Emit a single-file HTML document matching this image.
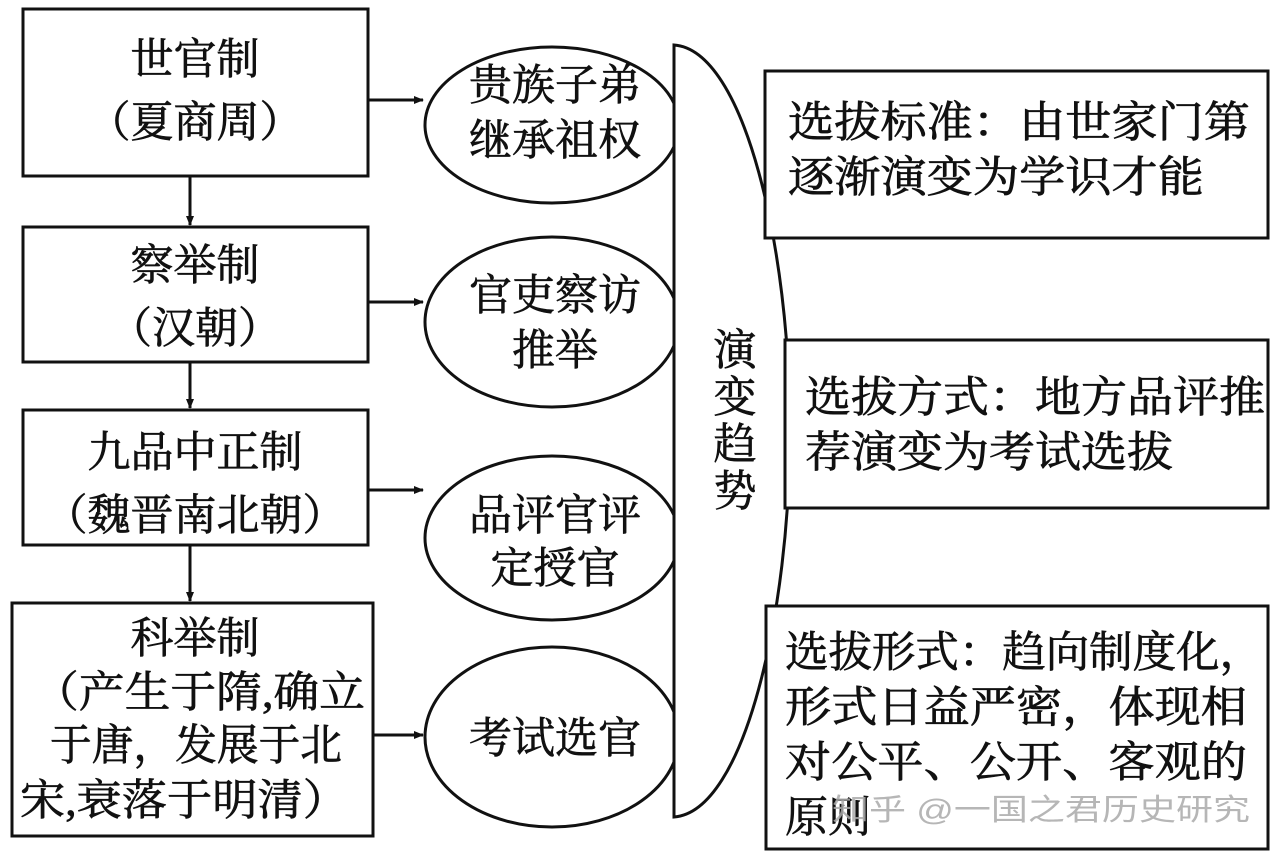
<!DOCTYPE html>
<html><head><meta charset="utf-8"><style>
html,body{margin:0;padding:0;background:#fff;}
svg{display:block;}
text{font-family:"Liberation Serif","Noto Serif CJK SC",serif;font-size:43px;fill:#111;stroke:#111;stroke-width:0.7;}
</style></head><body>
<svg width="1280" height="860" viewBox="0 0 1280 860">
<defs><marker id="a" markerWidth="10" markerHeight="10" refX="9" refY="5" orient="auto" markerUnits="userSpaceOnUse"><path d="M0,1 L10,5 L0,9 Z" fill="#111"/></marker></defs>
<g fill="none" stroke="#111" stroke-width="3">
<rect x="23" y="9" width="345" height="167"/>
<rect x="23" y="227" width="345" height="135"/>
<rect x="23" y="410" width="345" height="135"/>
<rect x="12" y="603" width="361" height="233"/>
<line x1="190" y1="176" x2="190" y2="225" marker-end="url(#a)"/>
<line x1="190" y1="362" x2="190" y2="408" marker-end="url(#a)"/>
<line x1="190" y1="545" x2="190" y2="601" marker-end="url(#a)"/>
<line x1="368" y1="100" x2="423" y2="100" marker-end="url(#a)"/>
<line x1="368" y1="302" x2="423" y2="302" marker-end="url(#a)"/>
<line x1="368" y1="490" x2="423" y2="490" marker-end="url(#a)"/>
<line x1="373" y1="735" x2="423" y2="735" marker-end="url(#a)"/>
<ellipse cx="552" cy="125" rx="127" ry="78"/>
<ellipse cx="552" cy="322" rx="127" ry="85"/>
<ellipse cx="552" cy="538" rx="127" ry="82"/>
<ellipse cx="552" cy="737" rx="127" ry="90"/>
</g>
<path d="M674,45 C745,50 790,250 790,430 C790,610 745,812 674,817 Z" fill="#fff" stroke="#111" stroke-width="3"/>
<g fill="#fff" stroke="#111" stroke-width="3">
<rect x="765" y="71" width="503" height="167"/>
<rect x="785" y="340" width="483" height="168"/>
<rect x="766" y="606" width="502" height="243"/>
</g>
<g text-anchor="middle">
<text x="195" y="74">世官制</text>
<text x="195" y="137">（夏商周）</text>
<text x="195" y="280">察举制</text>
<text x="195" y="343">（汉朝）</text>
<text x="195" y="467">九品中正制</text>
<text x="195" y="530">（魏晋南北朝）</text>
<text x="195" y="653">科举制</text>
</g>
<text x="33" y="707" textLength="332" lengthAdjust="spacingAndGlyphs">（产生于隋,确立</text>
<text x="50" y="760" textLength="292" lengthAdjust="spacingAndGlyphs">于唐，发展于北</text>
<text x="20" y="815" textLength="328" lengthAdjust="spacingAndGlyphs">宋,衰落于明清）</text>
<g text-anchor="middle" style="font-size:45px">
<text x="555" y="100">贵族子弟</text>
<text x="555" y="155">继承祖权</text>
<text x="555" y="310">官吏察访</text>
<text x="555" y="365">推举</text>
<text x="555" y="530">品评官评</text>
<text x="555" y="583">定授官</text>
<text x="555" y="753">考试选官</text>
<text x="735" y="365">演</text>
<text x="735" y="412">变</text>
<text x="735" y="459">趋</text>
<text x="735" y="506">势</text>
</g>
<text x="788" y="137" textLength="462" lengthAdjust="spacingAndGlyphs">选拔标准：由世家门第</text>
<text x="788" y="192" textLength="416" lengthAdjust="spacingAndGlyphs">逐渐演变为学识才能</text>
<text x="805" y="412" textLength="460" lengthAdjust="spacingAndGlyphs">选拔方式：地方品评推</text>
<text x="805" y="467" textLength="368" lengthAdjust="spacingAndGlyphs">荐演变为考试选拔</text>
<text x="785" y="667" textLength="478" lengthAdjust="spacingAndGlyphs">选拔形式：趋向制度化，</text>
<text x="785" y="722" textLength="462" lengthAdjust="spacingAndGlyphs">形式日益严密，体现相</text>
<text x="785" y="777" textLength="462" lengthAdjust="spacingAndGlyphs">对公平、公开、客观的</text>
<text x="785" y="832">原则</text>
<text x="832" y="820" style="font-family:'Liberation Sans','Noto Sans CJK SC',sans-serif;font-size:30px;fill:#aaa;stroke:none;opacity:0.85" textLength="418" lengthAdjust="spacingAndGlyphs">知乎 @一国之君历史研究</text>
</svg>
</body></html>
